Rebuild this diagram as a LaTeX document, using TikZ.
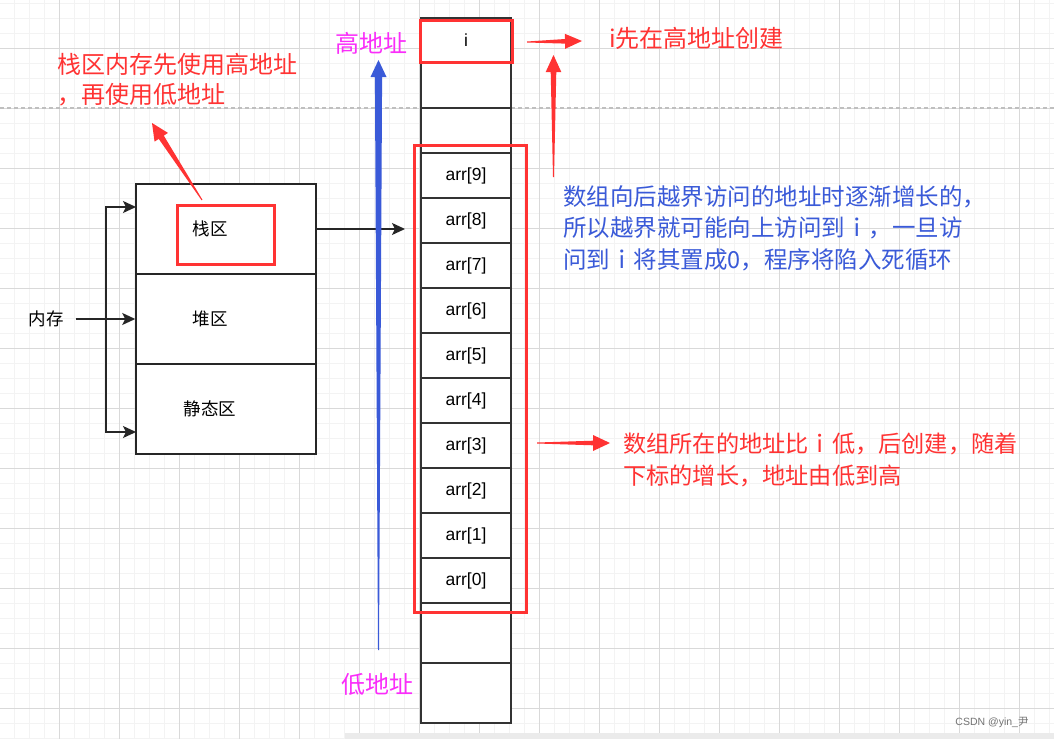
\documentclass[tikz,border=0pt]{standalone}
\usepackage{fontspec}
\setmainfont{Liberation Sans}
\newfontfamily\cjk{Noto Sans CJK SC}
\usetikzlibrary{arrows.meta,calc,positioning}

\definecolor{markred}{RGB}{255,51,51}
\definecolor{noteblue}{RGB}{58,90,216}
\definecolor{addrpink}{RGB}{250,45,250}
\definecolor{gridmajor}{RGB}{217,217,217}
\definecolor{gridminor}{RGB}{243,243,243}

\newcommand{\fatarrow}[6][markred]{%
  \coordinate (#2-#3) at ($(#3)!17pt!(#2)$);
  \fill[#1] ($(#2)!#4!90:(#3)$) -- ($(#2-#3)!#5!90:(#3)$) -- ($(#2-#3)!#6!90:(#3)$) -- (#3)
    -- ($(#2-#3)!#6!-90:(#3)$) -- ($(#2-#3)!#5!-90:(#3)$) -- ($(#2)!#4!-90:(#3)$) -- cycle;}

\begin{document}
\begin{tikzpicture}
[
    x=1pt, y=-1pt,
    cell/.style={draw=black!80, line width=1.5pt, fill=white, minimum width=90pt, minimum height=45pt, inner sep=0pt, font=\fontsize{17.5}{20}\selectfont},
    zone/.style={draw=black!85, line width=1.5pt, fill=white, minimum width=180pt, minimum height=90pt, label={[zonetext]center:#1}},
    zonetext/.style={xshift=-16pt, font=\cjk\fontsize{17.5}{20}\selectfont},
    redmark/.style={draw=markred, line width=3pt, inner sep=0pt},
    link/.style={draw=black!85, line width=1.5pt, -{Stealth[length=13pt,width=12pt,inset=3pt]}},
    note/.style={anchor=west, align=left, inner sep=0pt, font=\cjk\fontsize{23.5}{31.5}\selectfont},
    addr/.style={text=addrpink, inner sep=0pt, font=\cjk\fontsize{24}{28}\selectfont},
]
\useasboundingbox (0,0) rectangle (1054,739);
\fill[white] (0,0) rectangle (1054,739);
\foreach \gx in {14.3,29.3,...,1054} \draw[gridminor, line width=1.5pt] (\gx,0) -- (\gx,739);
\foreach \gy in {3.3,18.3,...,739} \draw[gridminor, line width=1.5pt] (0,\gy) -- (1054,\gy);
\foreach \gx in {59.3,119.3,...,1054} \draw[gridmajor, line width=1pt] (\gx,0) -- (\gx,739);
\foreach \gy in {48.3,108.3,...,739} \draw[gridmajor, line width=1pt] (0,\gy) -- (1054,\gy);
\draw[black!25, line width=1.2pt, dash pattern=on 4pt off 3pt] (0,108) -- (1054,108);
\fill[black!8] (345,733) rectangle (1054,739);

\node[zone=栈区] (stack) at (226,229) {};
\node[zone=堆区] (heap) at (226,319) {};
\node[zone=静态区] (static) at (226,409) {};
\node[redmark, minimum width=97pt, minimum height=59pt] (stackmark) at (225.5,234.5) {};
\node[inner sep=0pt, font=\cjk\fontsize{17.5}{20}\selectfont] (memory) at (46,319) {内存};
\coordinate (fork) at (106,319);
\coordinate (stackin) at (136,207);
\coordinate (staticin) at (136,432);
\coordinate (colin) at (405,229);
\draw[link, shorten <=12pt] (memory.east) -- (heap.west);
\draw[link] (fork) |- (stackin);
\draw[link] (fork) |- (staticin);
\draw[link] (stack.east) -- (colin);

\node[cell] (ci) at (466,40.5) {i};
\node[cell] (ce1) at (466,85.5) {};
\node[cell] (ce2) at (466,130.5) {};
\foreach \k [evaluate=\k as \yy using 175.5+45*(9-\k)] in {9,...,0}
    \node[cell] (arr\k) at (466,\yy) {arr[\k]};
\node[cell, minimum height=60pt] (cl1) at (466,633) {};
\node[cell, minimum height=60pt] (cl2) at (466,693) {};
\node[redmark, minimum width=92pt, minimum height=42pt] (imark) at (466,41) {};
\node[redmark, minimum width=112pt, minimum height=467pt] (arrmark) at (470,378.5) {};

\coordinate (lowtail) at (378.5,650);
\coordinate (hightip) at (378.5,60);
\coordinate (itail) at (527,42);
\coordinate (itip) at (582,41);
\coordinate (uptail) at (553.5,177);
\coordinate (uptip) at (553.5,55);
\coordinate (stacktail) at (202,200);
\coordinate (stacktip) at (152,123);
\coordinate (arrtail) at (537,443);
\coordinate (arrtip) at (610,443);
\fatarrow[noteblue]{lowtail}{hightip}{0.5pt}{3.6pt}{8pt}
\fatarrow{itail}{itip}{0.5pt}{2.3pt}{7.5pt}
\fatarrow{uptail}{uptip}{0.5pt}{2.8pt}{7.8pt}
\fatarrow{stacktail}{stacktip}{0.5pt}{3pt}{8pt}
\fatarrow{arrtail}{arrtip}{0.5pt}{2.3pt}{8pt}

\node[addr] (high) at (371,43) {高地址};
\node[addr] (low) at (377,684) {低地址};
\node[note, text=markred, font=\cjk\fontsize{24}{30}\selectfont] (ifirst) at (609,38) {i先在高地址创建};
\node[note, text=markred, font=\cjk\fontsize{24}{30}\selectfont] (stacknote) at (57,80) {栈区内存先使用高地址\\，再使用低地址};
\node[note, text=noteblue] (bluenote) at (563,228) {数组向后越界访问的地址时逐渐增长的，\\所以越界就可能向上访问到ｉ，一旦访\\问到ｉ将其置成0，程序将陷入死循环};
\node[note, text=markred, font=\cjk\fontsize{23.2}{31.5}\selectfont] (arrnote) at (623,460) {数组所在的地址比ｉ低，后创建，随着\\下标的增长，地址由低到高};
\node[text=black!55, inner sep=0pt, font=\fontsize{10.5}{12}\selectfont] (csdn) at (992,722) {CSDN @yin\_{\cjk 尹}};
\end{tikzpicture}
\end{document}
